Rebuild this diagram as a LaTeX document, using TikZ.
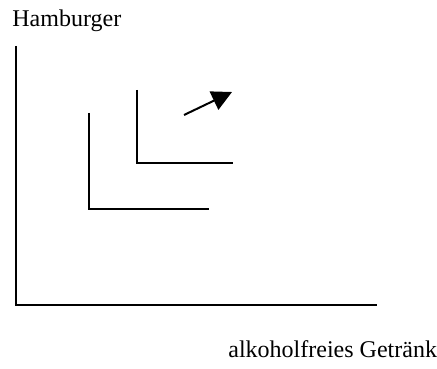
\documentclass[tikz,border=0pt]{standalone}
\usepackage{fontspec}
\setmainfont{Liberation Serif}
\usetikzlibrary{arrows.meta}
\begin{document}
\begin{tikzpicture}[x=0.5pt,y=-0.5pt,
  line/.style={line width=1pt},
  lab/.style={font=\fontsize{12}{14}\selectfont,inner sep=0pt,anchor=base west}]
\useasboundingbox (0,0) rectangle (437,368);
\node[lab] (ylab) at (12,27) {Hamburger};
\node[lab] (xlab) at (228,357) {alkoholfreies Getränk};
% axes
\coordinate (ytop) at (16,46);
\coordinate (origin) at (16,305);
\coordinate (xend) at (377,305);
\draw[line] (ytop) -- (origin) -- (xend);
% first L
\coordinate (a1) at (89,113);
\coordinate (a2) at (89,209);
\coordinate (a3) at (209,209);
\draw[line] (a1) -- (a2) -- (a3);
% second L
\coordinate (b1) at (137,90);
\coordinate (b2) at (137,163);
\coordinate (b3) at (233,163);
\draw[line] (b1) -- (b2) -- (b3);
% arrow
\coordinate (t0) at (184,115);
\coordinate (t1) at (232,92);
\draw[line,-{Triangle[length=10pt,width=10pt]}] (t0) -- (t1);
\end{tikzpicture}
\end{document}
